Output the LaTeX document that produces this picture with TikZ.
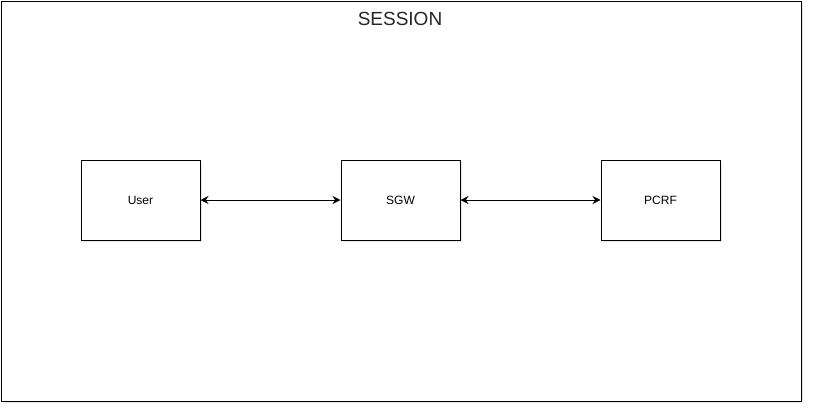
\documentclass[tikz,border=0pt]{standalone}
\usepackage{fontspec}
\setmainfont{Liberation Sans}
\usetikzlibrary{arrows.meta,shadows}
\begin{document}
\begin{tikzpicture}[x=1pt,y=-1pt,
  shad/.style={drop shadow={shadow xshift=2pt,shadow yshift=-2pt,opacity=0.15,fill=blue!30!gray}},
  box/.style={draw=black,line width=1pt,fill=white,minimum width=119pt,minimum height=80pt,inner sep=0pt,font=\fontsize{12}{14}\selectfont,shad},
  link/.style={draw=black,line width=1pt,{Stealth[length=8pt,width=8pt]}-{Stealth[length=8pt,width=8pt]}}]
\useasboundingbox (0,0) rectangle (813,413);
\node[draw=black,line width=1pt,fill=white,minimum width=800pt,minimum height=400pt,inner sep=0pt,shad] (frame) at (401,201) {};
\node[font=\fontsize{19}{22}\selectfont,text=black!85] (title) at (400,19) {SESSION};
\node[box] (user) at (140.5,200) {User};
\node[box] (sgw) at (400.5,200) {SGW};
\node[box] (pcrf) at (660.5,200) {PCRF};
\draw[link] (user.east) -- (sgw.west);
\draw[link] (sgw.east) -- (pcrf.west);
\end{tikzpicture}
\end{document}
